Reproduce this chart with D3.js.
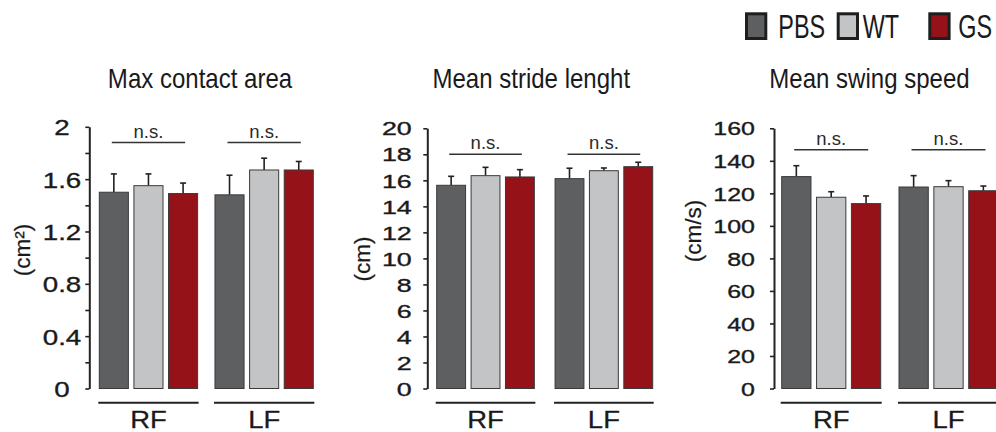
<!DOCTYPE html>
<html><head><meta charset="utf-8">
<script src="https://cdn.jsdelivr.net/npm/d3@7"></script>
<style>
html,body{margin:0;padding:0;background:#fff;}
svg{display:block;font-family:"Liberation Sans",Arial,sans-serif;}
</style></head>
<body><svg id="chart" width="996" height="432"></svg>
<script>
// ---- data ----
const categories = ["RF", "LF"];
const seriesNames = ["PBS", "WT", "GS"];
const seriesColors = ["#5e5f61", "#c3c4c6", "#961219"];

const titles = ["Max contact area", "Mean stride lenght", "Mean swing speed"];
const yLabels = ["(cm\u00B2)", "(cm)", "(cm/s)"];

// means per category [RF, LF], each lists PBS, WT, GS
const areaMeans   = [[1.50, 1.55, 1.49], [1.48, 1.67, 1.67]];
const areaErrors  = [[0.14, 0.09, 0.08], [0.15, 0.09, 0.065]];
const strideMeans = [[15.62, 16.36, 16.26], [16.13, 16.74, 17.05]];
const strideErrors= [[0.69, 0.64, 0.56], [0.80, 0.21, 0.34]];
const speedMeans  = [[130.3, 117.6, 113.7], [123.9, 124.1, 121.6]];
const speedErrors = [[6.7, 3.4, 4.7], [7.0, 3.7, 2.9]];

const areaTicks = [0, 0.2, 0.4, 0.6, 0.8, 1.0, 1.2, 1.4, 1.6, 1.8, 2.0];
const areaTickLabels = ["0", "", "0.4", "", "0.8", "", "1.2", "", "1.6", "", "2"];
const strideTicks = [0, 2, 4, 6, 8, 10, 12, 14, 16, 18, 20];
const strideTickLabels = ["0", "2", "4", "6", "8", "10", "12", "14", "16", "18", "20"];
const speedTicks = [0, 20, 40, 60, 80, 100, 120, 140, 160];
const speedTickLabels = ["0", "20", "40", "60", "80", "100", "120", "140", "160"];

const sigLabel = "n.s.";
const sigLevels = [1.88, 18.0, 146.8];

// ---- layout ----
const panels = [
  {means: areaMeans, errs: areaErrors, ticks: areaTicks, tickLabels: areaTickLabels, max: 2,
   axisX: 89.3, top: 126.8, range: [99.3, 313.3], pad: 0.15,
   tickFont: 22, tickScale: 1.26, tickDx: 27.3, anchor: "middle",
   titleX: 200, ylab: [22, 250]},
  {means: strideMeans, errs: strideErrors, ticks: strideTicks, tickLabels: strideTickLabels, max: 20,
   axisX: 427.3, top: 128.3, range: [436.7, 652.7], pad: 0.175,
   tickFont: 18.5, tickScale: 1.45, tickDx: 15.6, anchor: "end",
   titleX: 531.3, ylab: [362, 259]},
  {means: speedMeans, errs: speedErrors, ticks: speedTicks, tickLabels: speedTickLabels, max: 160,
   axisX: 774, top: 128.3, range: [781.7, 998], pad: 0.156,
   tickFont: 18.5, tickScale: 1.35, tickDx: 19, anchor: "end",
   titleX: 869.5, ylab: [693, 231]}
];
const bottom = 388.5;
const ink = "#222";
const textInk = "#1a1a1a";

const svg = d3.select("#chart");
svg.append("rect").attr("width", 996).attr("height", 432).attr("fill", "#fff");

panels.forEach((p, pi) => {
  const g = svg.append("g");
  const y = d3.scaleLinear().domain([0, p.max]).range([bottom, p.top]);
  const x0 = d3.scaleBand().domain(categories).range(p.range).paddingInner(p.pad).paddingOuter(0);
  const x1 = d3.scaleBand().domain(seriesNames).range([0, x0.bandwidth()]).paddingInner(0.16).paddingOuter(0);

  // axis
  const ax = g.append("g").attr("transform", `translate(${p.axisX},0)`)
    .call(d3.axisLeft(y).tickValues(p.ticks).tickSize(4).tickSizeOuter(0)
      .tickFormat((d, i) => p.tickLabels[i]));
  ax.select(".domain").attr("stroke", ink).attr("stroke-width", 2);
  ax.selectAll(".tick line").attr("stroke", ink).attr("stroke-width", 1.6);
  ax.selectAll(".tick text")
    .attr("fill", textInk)
    .attr("stroke", textInk).attr("stroke-width", 0.35)
    .attr("font-size", p.tickFont)
    .attr("font-family", "'Liberation Sans', Arial, sans-serif")
    .attr("text-anchor", p.anchor)
    .attr("x", -p.tickDx / p.tickScale)
    .attr("dy", "0.36em")
    .attr("transform", `scale(${p.tickScale},1)`);

  // bars
  categories.forEach((c, ci) => {
    seriesNames.forEach((s, si) => {
      const v = p.means[ci][si], e = p.errs[ci][si];
      const bx = x0(c) + x1(s);
      const cx = bx + x1.bandwidth() / 2;
      g.append("line").attr("x1", cx).attr("x2", cx).attr("y1", y(v)).attr("y2", y(v + e))
        .attr("stroke", ink).attr("stroke-width", 1.6);
      g.append("line").attr("x1", cx - 3).attr("x2", cx + 3).attr("y1", y(v + e)).attr("y2", y(v + e))
        .attr("stroke", ink).attr("stroke-width", 1.6);
      g.append("rect").attr("x", bx).attr("y", y(v)).attr("width", x1.bandwidth())
        .attr("height", y(0) - y(v)).attr("fill", seriesColors[si])
        .attr("stroke", "#3a3a3a").attr("stroke-width", 1);
    });
    // significance
    const sy = y(sigLevels[pi]);
    const gx0 = x0(c) + 12.5, gx1 = x0(c) + x0.bandwidth() - 12.5;
    g.append("line").attr("x1", gx0).attr("x2", gx1).attr("y1", sy).attr("y2", sy)
      .attr("stroke", "#333").attr("stroke-width", 1.5);
    g.append("text").attr("x", (gx0 + gx1) / 2).attr("y", sy - 5).attr("text-anchor", "middle")
      .attr("font-size", 18.5).attr("fill", "#2a2a2a").text(sigLabel);
    // group underline + label
    g.append("line").attr("x1", x0(c) - 1).attr("x2", x0(c) + x0.bandwidth() + 1)
      .attr("y1", 402.7).attr("y2", 402.7).attr("stroke", ink).attr("stroke-width", 2);
    const lx = x0(c) + x0.bandwidth() / 2;
    g.append("text").attr("transform", `translate(${lx},427.8) scale(1.12,1)`)
      .attr("text-anchor", "middle").attr("font-size", 24.5).attr("fill", textInk)
      .attr("stroke", textInk).attr("stroke-width", 0.3).text(c);
  });

  // title
  g.append("text").attr("transform", `translate(${p.titleX},88.3) scale(0.89,1)`)
    .attr("text-anchor", "middle").attr("font-size", 27).attr("fill", textInk).text(titles[pi]);
  // y label
  g.append("text").attr("transform", `translate(${p.ylab[0]},${p.ylab[1]}) rotate(-90)`)
    .attr("text-anchor", "middle").attr("dy", "0.35em").attr("font-size", 22.5)
    .attr("fill", textInk).attr("stroke", textInk).attr("stroke-width", 0.25).text(yLabels[pi]);
});

// legend
const legBoxX = [745, 836.7, 928.3];
const legTextX = [778.3, 862.7, 958.3];
const lg = svg.append("g");
seriesNames.forEach((s, i) => {
  lg.append("rect").attr("x", legBoxX[i] + 1.5).attr("y", 13.8).attr("width", 19.3).attr("height", 24.7)
    .attr("fill", seriesColors[i]).attr("stroke", "#1e1e1e").attr("stroke-width", 3);
  lg.append("text").attr("transform", `translate(${legTextX[i]},38.3) scale(0.72,1)`)
    .attr("font-size", 32.5).attr("fill", textInk).text(s);
});
</script></body></html>
